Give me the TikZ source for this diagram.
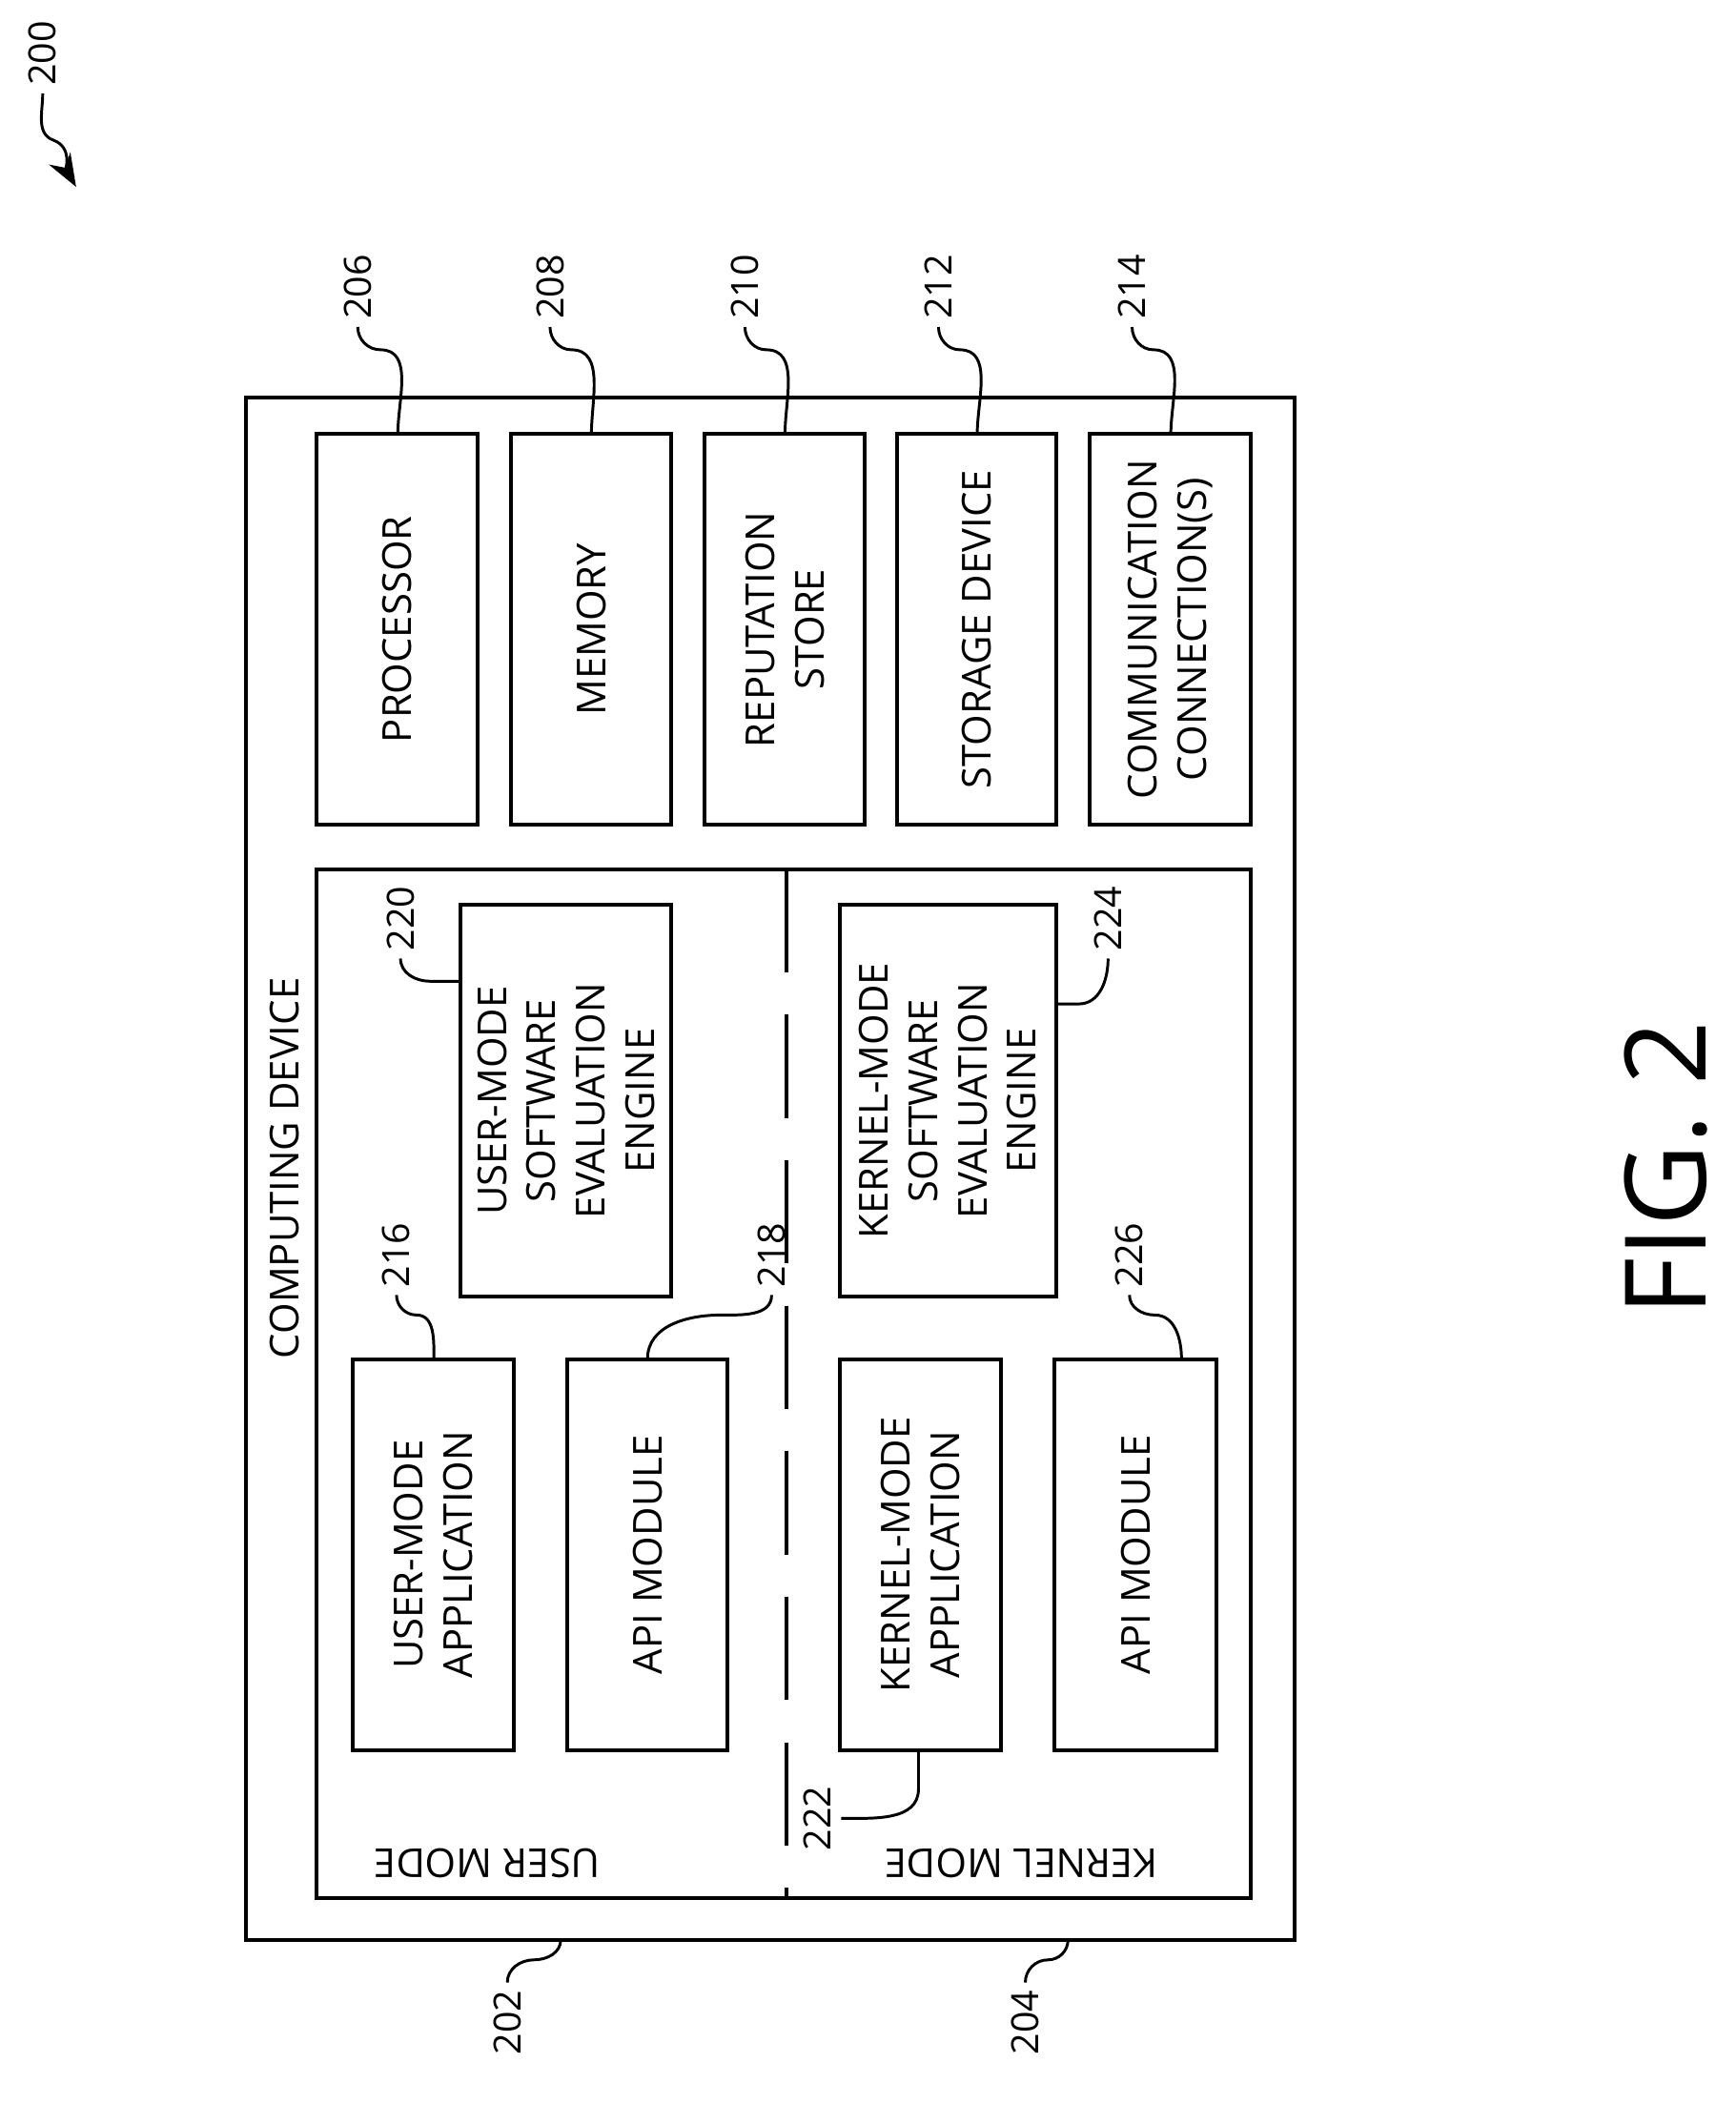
\documentclass[tikz,border=0pt]{standalone}
\usepackage{fontspec}
\setmainfont{Open Sans}
\usetikzlibrary{arrows.meta}
\tikzset{
  blk/.style={draw,line width=0.8pt},
  txt/.style={rotate=90,align=center,font=\fontsize{8.5}{10.5}\selectfont,inner sep=0pt},
  num/.style={rotate=90,font=\fontsize{8}{9}\selectfont,inner sep=1pt},
  lead/.style={line width=0.6pt}
}
\begin{document}
\begin{tikzpicture}[x=0.01cm,y=-0.01cm]
\useasboundingbox (0,0) rectangle (1300,1576);

% frames
\draw[blk] (184,298) rectangle (970,1453);
\draw[blk] (237,651) rectangle (937,1422);
\draw[line width=0.8pt,dash pattern=on 22pt off 9pt] (589,651) -- (589,1422);

% upper row
\draw[blk] (237,325) rectangle (358,618) node[txt,midway] (proc) {PROCESSOR};
\draw[blk] (383,325) rectangle (503,618) node[txt,midway] (mem) {MEMORY};
\draw[blk] (528,325) rectangle (648,618) node[txt,midway] (rep) {REPUTATION\\STORE};
\draw[blk] (672,325) rectangle (791,618) node[txt,midway] (stor) {STORAGE DEVICE};
\draw[blk] (816,325) rectangle (937,618) node[txt,midway] (comm) {COMMUNICATION\\CONNECTION(S)};

% user mode
\draw[blk] (345,678) rectangle (503,971) node[txt,midway] (ueng) {USER-MODE\\SOFTWARE\\EVALUATION\\ENGINE};
\draw[blk] (264,1018) rectangle (385,1311) node[txt,midway] (uapp) {USER-MODE\\APPLICATION};
\draw[blk] (425,1018) rectangle (545,1311) node[txt,midway] (uapi) {API MODULE};

% kernel mode
\draw[blk] (629,678) rectangle (791,971) node[txt,midway] (keng) {KERNEL-MODE\\SOFTWARE\\EVALUATION\\ENGINE};
\draw[blk] (629,1018) rectangle (750,1311) node[txt,midway] (kapp) {KERNEL-MODE\\APPLICATION};
\draw[blk] (790,1018) rectangle (911,1311) node[txt,midway] (kapi) {API MODULE};

\node[txt] (cdev) at (213,875) {COMPUTING DEVICE};
\node[txt,rotate=90] (umode) at (365,1396) {USER MODE};
\node[txt,rotate=90] (kmode) at (765,1396) {KERNEL MODE};
\node[rotate=90,font=\fontsize{24}{28}\selectfont,inner sep=0pt] (fig) at (1248,875) {FIG. 2};

% reference numerals
\node[num] (n200) at (32,40) {200};
\node[num] (n206) at (268,215) {206};
\node[num] (n208) at (412,215) {208};
\node[num] (n210) at (558,215) {210};
\node[num] (n212) at (703,215) {212};
\node[num] (n214) at (848,215) {214};
\node[num] (n220) at (300,688) {220};
\node[num] (n216) at (297,940) {216};
\node[num] (n218) at (578,940) {218};
\node[num] (n224) at (830,688) {224};
\node[num] (n226) at (846,940) {226};
\node[num] (n222) at (612,1362) {222};
\node[num] (n202) at (380,1515) {202};
\node[num] (n204) at (768,1515) {204};

\draw[lead,-{Stealth[length=7pt]}] (32,70) to[out=-90,in=160] (40,105) to[out=-20,in=120] (57,140);
\draw[lead] (268,245) to[out=-90,in=180] (285,262) to[out=0,in=90] (298,325);
\draw[lead] (412,245) to[out=-90,in=180] (428,262) to[out=0,in=90] (443,325);
\draw[lead] (558,245) to[out=-90,in=180] (574,262) to[out=0,in=90] (588,325);
\draw[lead] (703,245) to[out=-90,in=180] (719,262) to[out=0,in=90] (732,325);
\draw[lead] (848,245) to[out=-90,in=180] (864,262) to[out=0,in=90] (877,325);
\draw[lead] (300,718) to[out=-90,in=180] (322,735) -- (345,735);
\draw[lead] (297,970) to[out=-90,in=180] (312,985) to[out=0,in=90] (325,1018);
\draw[lead] (578,970) to[out=-90,in=0] (540,985) to[out=180,in=90] (485,1018);
\draw[lead] (830,718) to[out=-90,in=0] (808,752) -- (791,752);
\draw[lead] (846,970) to[out=-90,in=180] (865,985) to[out=0,in=90] (885,1018);
\draw[lead] (630,1362) to[out=0,in=-90] (688,1340) -- (688,1311);
\draw[lead] (380,1485) to[out=90,in=180] (400,1468) to[out=0,in=-90] (420,1453);
\draw[lead] (768,1485) to[out=90,in=180] (785,1468) to[out=0,in=-90] (800,1453);
\end{tikzpicture}
\end{document}
